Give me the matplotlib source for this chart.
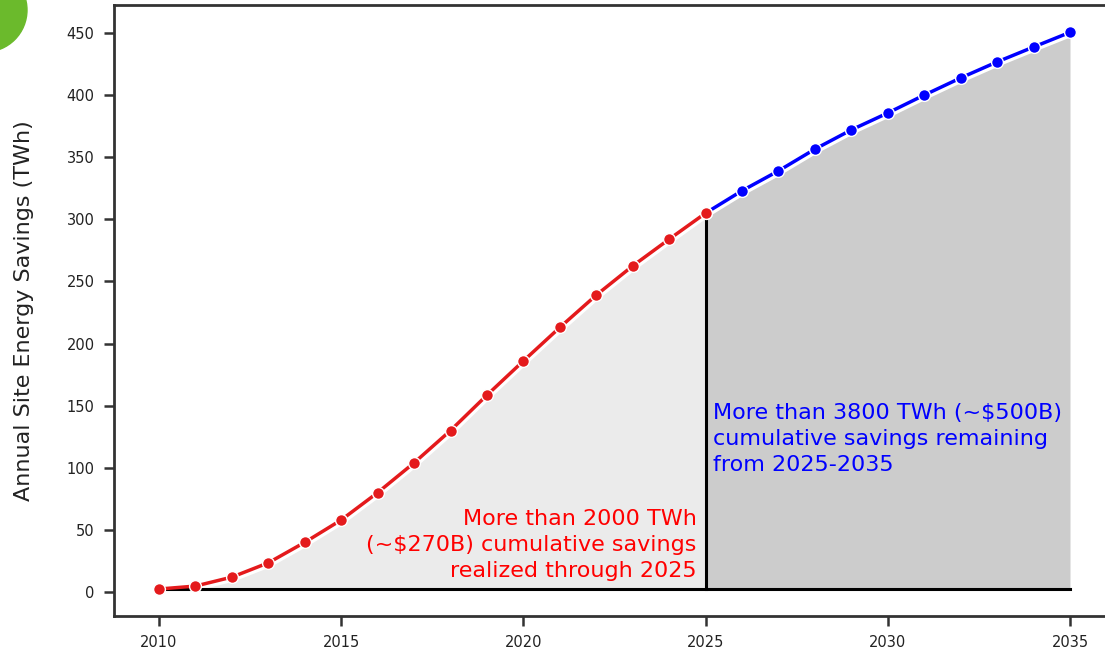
import numpy as np
import matplotlib.pyplot as plt
from matplotlib.patches import Ellipse

# data
years_past = [2010, 2011, 2012, 2013, 2014, 2015, 2016, 2017, 2018,
              2019, 2020, 2021, 2022, 2023, 2024, 2025]
savings_past = [2.4, 4.8, 12, 23.5, 40, 58, 80, 104, 130,
                158.5, 186, 213, 239, 262.5, 284, 305]
years_future = [2025, 2026, 2027, 2028, 2029, 2030, 2031, 2032, 2033, 2034, 2035]
savings_future = [305, 323, 339, 356.5, 372, 385.6, 400, 413.8, 426.7, 438.7, 450.5]
baseline = 2.5
x_ticks = [2010, 2015, 2020, 2025, 2030, 2035]
y_ticks = [0, 50, 100, 150, 200, 250, 300, 350, 400, 450]

red = '#e41a1c'
blue = '#0000ff'

W, H = 1105, 650
fig = plt.figure(figsize=(W / 100, H / 100), dpi=100)
ax = fig.add_axes([114 / W, 34 / H, 1001 / W, 611 / H])

# shaded areas, with a white gap along the top edge
ax.fill_between(years_past, baseline, savings_past, color='#ebebeb', lw=0, zorder=1)
ax.fill_between(years_future, baseline, savings_future, color='#cccccc', lw=0, zorder=1)
ax.plot(years_past + years_future[1:], savings_past + savings_future[1:],
        color='white', lw=7, zorder=1.5, solid_capstyle='butt')
ax.plot([2010, 2035], [baseline, baseline], color='black', lw=2.2, zorder=2)
ax.plot([2025, 2025], [baseline, 300], color='black', lw=2.2, zorder=2)

ax.plot(years_future, savings_future, color=blue, lw=2.5, marker='o', ms=8.5,
        mec='white', mew=1.0, zorder=3)
ax.plot(years_past, savings_past, color=red, lw=2.5, marker='o', ms=8.5,
        mec='white', mew=1.0, zorder=4)

ax.text(2024.75, 9, "More than 2000 TWh\n(~$270B) cumulative savings\nrealized through 2025",
        color='#ff0000', fontsize=16, ha='right', va='bottom', linespacing=1.38, zorder=5)
ax.text(2025.2, 94, "More than 3800 TWh (~$500B)\ncumulative savings remaining\nfrom 2025-2035",
        color=blue, fontsize=16, ha='left', va='bottom', linespacing=1.38, zorder=5)

ax.set_xlim(2008.765, 2036.235)
ax.set_ylim(-19.3, 472.5)
ax.set_xticks(x_ticks)
ax.set_yticks(y_ticks)
ax.tick_params(direction='out', length=7, width=1.8, color='#333333',
               labelsize=10.5, labelcolor='#222222', pad=7)
for side in ['left', 'top', 'bottom']:
    ax.spines[side].set_linewidth(2)
    ax.spines[side].set_color('#333333')
ax.spines['right'].set_visible(False)
ax.set_ylabel('Annual Site Energy Savings (TWh)', fontsize=16, color='#222222', labelpad=23)

# decorative green circle in the corner
fig.patches.append(Ellipse((-15 / W, 1 - 10 / H), 84 / W, 84 / H,
                           transform=fig.transFigure, color='#6bba2c', zorder=0))

fig.savefig('out.png', dpi=100)
